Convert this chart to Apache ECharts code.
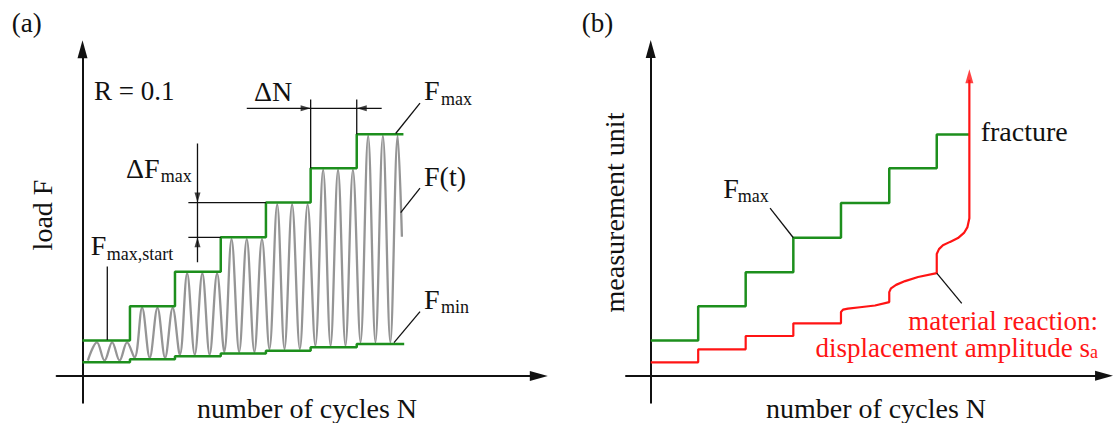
<!DOCTYPE html>
<html>
<head>
<meta charset="utf-8">
<script src="https://cdn.jsdelivr.net/npm/echarts@6/dist/echarts.min.js"></script>
<style>
  html, body { margin: 0; padding: 0; background: #fff; }
  #main { width: 1113px; height: 423px; }
</style>
</head>
<body>
<div id="main"></div>
<script>
// ---- (a) load steps: x in cycles, y in load units ----
const stepNA = [0, 3.12, 6.08, 9.09, 12.06, 15.0, 18.03];
const fmaxA = [10.3, 20.3, 30.3, 40.3, 50.4, 60.4, 70.3];
const fminA = [3.98, 4.85, 5.73, 6.54, 7.35, 8.34, 9.3];
const stepEndA = 21.1;

const troughX = [0.35, 1.45, 2.44, 3.42, 4.42, 5.43, 6.40, 7.38, 8.36, 9.32, 10.30, 11.30, 12.29, 13.28, 14.29, 15.31, 16.31, 17.29, 18.28, 19.26, 20.24];
const troughY = [4.5, 4.5, 4.5, 5.35, 5.35, 5.35, 6.2, 6.2, 6.2, 7.0, 7.0, 7.0, 7.85, 7.85, 7.85, 8.8, 8.8, 8.8, 9.8, 9.8, 9.8];
const peakX = [0.95, 1.95, 2.93, 3.92, 4.93, 5.93, 6.88, 7.88, 8.85, 9.80, 10.80, 11.80, 12.80, 13.78, 14.80, 15.82, 16.80, 17.78, 18.78, 19.75, 20.72];
const peakY = [9.8, 9.8, 9.8, 19.8, 19.8, 19.8, 29.8, 29.8, 29.8, 39.8, 39.8, 39.8, 49.9, 49.9, 49.9, 59.9, 59.9, 59.9, 69.8, 69.8, 69.8];
const waveEnd = [21.0, 40.5];

// leaders and dimension lines (a)
const leaderFmaxStartA = [[1.63, 31.8], [1.63, 10.5]];
const leaderFmaxA = [[20.59, 70.5], [22.19, 79.3]];
const leaderFtA = [[20.92, 47.5], [22.19, 54.6]];
const leaderFminA = [[20.48, 9.7], [22.19, 18.7]];
const dimFUpper = [[6.96, 50.4], [12.06, 50.4]];
const dimFLower = [[6.96, 40.3], [9.09, 40.3]];
const dimFVert = [[7.56, 67.6], [7.56, 33.1]];
const dimNLeft = [[15.0, 80.4], [15.0, 60.4]];
const dimNRight = [[18.03, 80.4], [18.03, 70.3]];
const dimNHoriz = [[10.8, 77.8], [19.67, 77.8]];
const tipDown = [7.56, 50.4], tipUp = [7.56, 40.3];
const tipRight = [15.0, 77.8], tipLeft = [18.03, 77.8];

// ---- (b) measurement unit ----
const stepNB = [0, 3.0, 6.0, 9.01, 12.02, 15.07, 18.07];
const fmaxB = [10.2, 20.2, 30.1, 40.1, 50.2, 60.3, 70.1];
const stepEndB = 20.13;
const redX = [0, 3.0, 3.0, 6.0, 6.0, 9.01, 9.01, 12.02, 12.02, 12.15, 12.46, 13.22, 14.17, 15.07, 15.07, 15.18, 15.5, 16.07, 16.89, 18.07, 18.07, 18.21, 18.46, 18.91, 19.41, 19.79, 20.01, 20.13, 20.13];
const redY = [3.9, 3.9, 7.67, 7.67, 11.54, 11.54, 15.23, 15.23, 18.5, 19.2, 19.5, 19.9, 20.4, 21.4, 24.3, 25.4, 26.4, 27.5, 28.7, 29.8, 35.4, 36.8, 37.9, 38.9, 40.0, 41.5, 43.2, 45.8, 86.0];
const redTip = [20.13, 89.1];
const leaderFmaxB = [[7.54, 48.7], [9.01, 40.1]];
const leaderReactB = [[18.07, 29.8], [19.65, 21.0]];

// ---- layout ----
const PA = { x0: 82.5, y0: 376, sx: 15.21, sy: 3.44 };
const PB = { x0: 650.7, y0: 375.7, sx: 15.83, sy: 3.44 };
const AX = [-1.7, 30.0], AY = [-7.8, 95.0];
const BX = [-1.56, 28.64], BY = [-7.85, 95.0];

const GREEN = '#1d8f1d';
const RED = '#ff1414';
const INK = '#111';
const SERIF = 'Liberation Serif';
const BASE_K = 0.3;

function gridFor(p, xr, yr) {
    return {
        left: p.x0 + xr[0] * p.sx,
        top: p.y0 - yr[1] * p.sy,
        width: (xr[1] - xr[0]) * p.sx,
        height: (yr[1] - yr[0]) * p.sy,
        containLabel: false,
        outerBoundsMode: 'none'
    };
}

function axis(gi, r) {
    return {
        type: 'value',
        gridIndex: gi,
        min: r[0],
        max: r[1],
        axisLine: {
            show: true,
            onZero: true,
            symbol: ['none', 'triangle'],
            symbolSize: [10, 18],
            lineStyle: { color: INK, width: 2 }
        },
        axisTick: { show: false },
        axisLabel: { show: false },
        splitLine: { show: false }
    };
}

function lineS(gi, data, color, width, extra) {
    return Object.assign({
        type: 'line',
        xAxisIndex: gi,
        yAxisIndex: gi,
        data: data,
        symbol: 'none',
        showSymbol: false,
        silent: true,
        animation: false,
        lineStyle: { color: color, width: width }
    }, extra || {});
}

function stepData(xs, ys, end) {
    const d = xs.map((x, i) => [x, ys[i]]);
    d.push([end, ys[ys.length - 1]]);
    return d;
}

const waveData = [];
troughX.forEach((x, i) => {
    waveData.push([x, troughY[i]]);
    waveData.push([peakX[i], peakY[i]]);
});
waveData.push(waveEnd);

const redData = redX.map((x, i) => [x, redY[i]]);

const segsA = [leaderFmaxStartA, leaderFmaxA, leaderFtA, leaderFminA,
    dimFUpper, dimFLower, dimFVert, dimNLeft, dimNRight, dimNHoriz];
const segsB = [leaderFmaxB, leaderReactB];

const series = [
    lineS(0, waveData, '#959595', 2.3, { smooth: 0.36 }),
    lineS(0, stepData(stepNA, fmaxA, stepEndA), GREEN, 2.5, { step: 'end' }),
    lineS(0, stepData(stepNA, fminA, stepEndA + 0.05), GREEN, 2.5, { step: 'end' })
];
segsA.forEach(s => series.push(lineS(0, s, INK, 1.3)));
series.push({
    type: 'scatter',
    xAxisIndex: 0,
    yAxisIndex: 0,
    silent: true,
    animation: false,
    symbol: 'triangle',
    symbolSize: [6, 10],
    itemStyle: { color: INK },
    data: [
        { value: tipDown, symbolRotate: 180, symbolOffset: [0, -5] },
        { value: tipUp, symbolRotate: 0, symbolOffset: [0, 5] },
        { value: tipRight, symbolRotate: -90, symbolOffset: [-5, 0] },
        { value: tipLeft, symbolRotate: 90, symbolOffset: [5, 0] }
    ]
});
series.push(lineS(1, stepData(stepNB, fmaxB, stepEndB), GREEN, 2.5, { step: 'end' }));
series.push(lineS(1, redData, RED, 2.2));
series.push({
    type: 'scatter',
    xAxisIndex: 1,
    yAxisIndex: 1,
    silent: true,
    animation: false,
    symbol: 'triangle',
    symbolSize: [8, 14],
    symbolOffset: [0, 7],
    itemStyle: { color: RED },
    data: [redTip]
});
segsB.forEach(s => series.push(lineS(1, s, INK, 1.3)));

// texts: left x, baseline y (px)
const labels = [
    { x: 11.7, b: 31.5, t: '(a)', fs: 27 },
    { x: 581.7, b: 31.5, t: '(b)', fs: 27 },
    { x: 94, b: 99.5, t: 'R = 0.1', fs: 27 },
    { x: 126, b: 176.7, t: 'ΔF', fs: 28 },
    { x: 160.7, b: 181.7, t: 'max', fs: 18 },
    { x: 254, b: 100, t: 'ΔN', fs: 28 },
    { x: 424, b: 99.3, t: 'F', fs: 28 },
    { x: 441, b: 104.3, t: 'max', fs: 18 },
    { x: 424, b: 185, t: 'F(t)', fs: 28 },
    { x: 424, b: 308.3, t: 'F', fs: 28 },
    { x: 441, b: 312.7, t: 'min', fs: 18 },
    { x: 90.7, b: 254.3, t: 'F', fs: 28 },
    { x: 106.7, b: 259, t: 'max,start', fs: 18 },
    { x: 723.3, b: 196.7, t: 'F', fs: 28 },
    { x: 737.7, b: 201.7, t: 'max', fs: 18 },
    { x: 980.7, b: 140, t: 'fracture', fs: 28 },
    { x: 307, b: 416.5, t: 'number of cycles N', fs: 28, a: 'center' },
    { x: 876, b: 416.5, t: 'number of cycles N', fs: 28, a: 'center' }
];
const rotated = [
    { x: 42.6, y: 215, t: 'load F', fs: 28 },
    { x: 614.6, y: 212.5, t: 'measurement unit', fs: 28 }
];

const graphic = labels.map(l => ({
    type: 'text',
    x: l.x,
    y: l.b - BASE_K * l.fs,
    silent: true,
    style: {
        text: l.t,
        fontSize: l.fs,
        fontFamily: SERIF,
        fill: l.c || INK,
        align: l.a || 'left',
        textAlign: l.a || 'left',
        verticalAlign: 'middle',
        textVerticalAlign: 'middle'
    }
})).concat(rotated.map(r => ({
    type: 'text',
    x: r.x,
    y: r.y,
    rotation: Math.PI / 2,
    silent: true,
    style: {
        text: r.t,
        fontSize: r.fs,
        fontFamily: SERIF,
        fill: INK,
        align: 'center',
        textAlign: 'center',
        verticalAlign: 'middle',
        textVerticalAlign: 'middle'
    }
})));

// red two-line note, right aligned, with subscript
graphic.push({
    type: 'text',
    x: 1098,
    y: 307.4,
    silent: true,
    style: {
        text: 'material reaction:\ndisplacement amplitude s{sub|a}',
        fontSize: 27,
        fontFamily: SERIF,
        fill: RED,
        lineHeight: 27,
        align: 'right',
        textAlign: 'right',
        verticalAlign: 'top',
        textVerticalAlign: 'top',
        rich: {
            sub: {
                fontSize: 18,
                fontFamily: SERIF,
                fill: RED,
                color: RED,
                lineHeight: 14,
                verticalAlign: 'bottom'
            }
        }
    }
});

const chart = echarts.init(document.getElementById('main'), null, { renderer: 'svg' });
chart.setOption({
    backgroundColor: '#fff',
    animation: false,
    grid: [gridFor(PA, AX, AY), gridFor(PB, BX, BY)],
    xAxis: [axis(0, AX), axis(1, BX)],
    yAxis: [axis(0, AY), axis(1, BY)],
    series: series,
    graphic: graphic
});
</script>
</body>
</html>
